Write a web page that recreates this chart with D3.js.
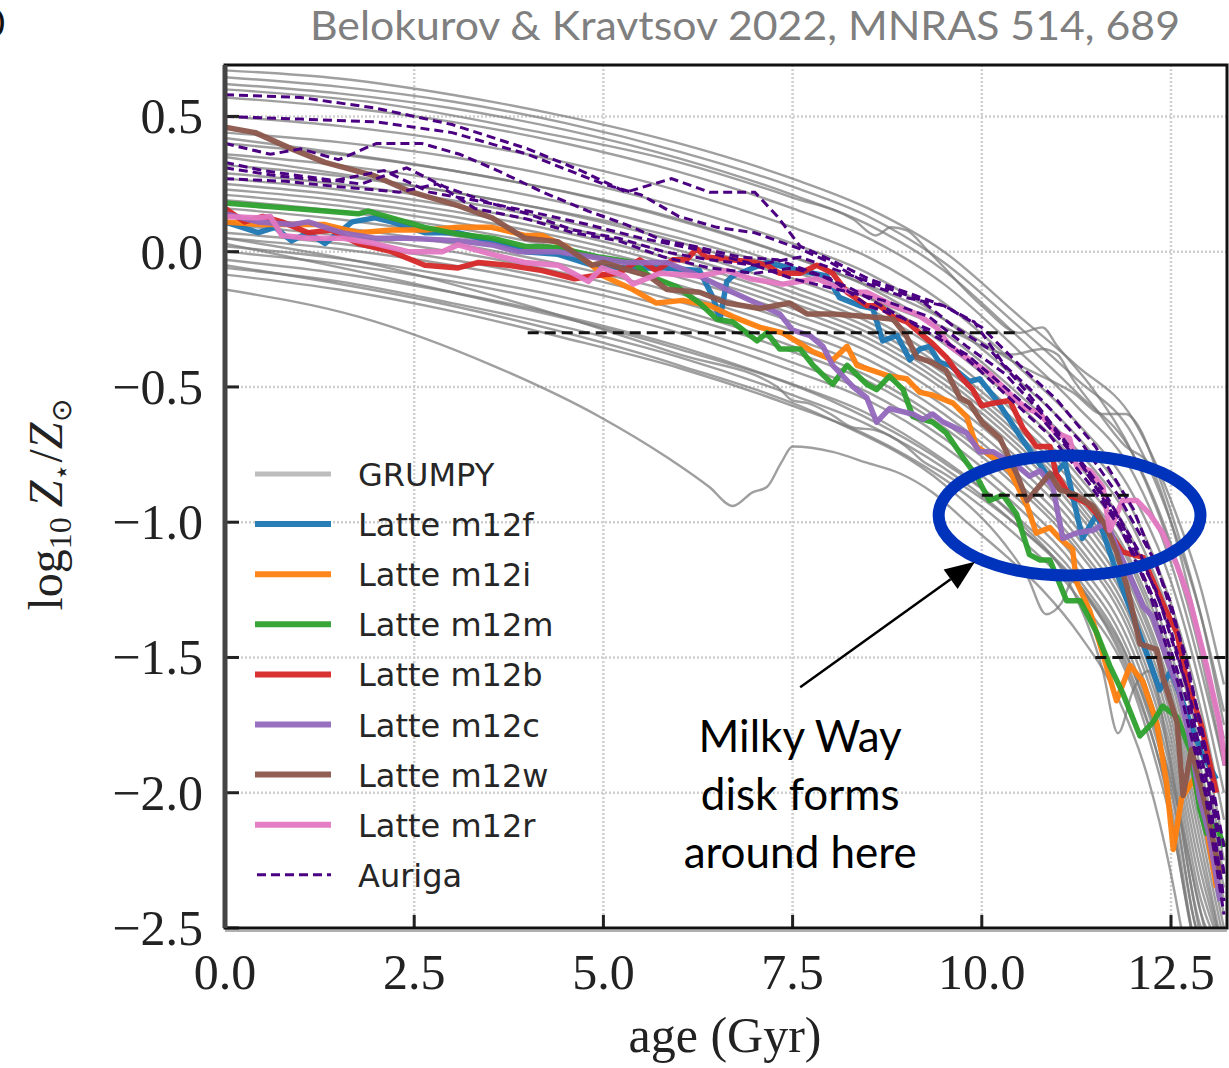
<!DOCTYPE html>
<html>
<head>
<meta charset="utf-8">
<script src="https://cdn.jsdelivr.net/npm/d3@7"></script>
<style>
  html, body { margin: 0; padding: 0; background: #fff; }
  svg { display: block; }
</style>
</head>
<body>
<svg id="chart" width="1229" height="1068"></svg>
<script>
// ---------------- data ----------------
const xTicks = [0, 2.5, 5, 7.5, 10, 12.5];
const yTicks = [0.5, 0, -0.5, -1, -1.5, -2, -2.5];

// GRUMPY model tracks sampled on a common age grid
const grumpyAges = [0, 1.5, 3, 4.5, 6, 7.5, 8.5, 9.5, 10.5, 11.25, 12, 12.5, 12.9, 13.2];
const grumpyTracks = [
  [0.67, 0.64, 0.58, 0.50, 0.40, 0.27, 0.16, 0.00, -0.24, -0.42, -0.62, -0.92, -1.25, -1.60],
  [0.645, 0.61, 0.555, 0.475, 0.37, 0.24, 0.13, -0.04, -0.28, -0.47, -0.68, -1.00, -1.35, -1.70],
  [0.62, 0.585, 0.53, 0.45, 0.345, 0.21, 0.10, -0.07, -0.32, -0.52, -0.75, -1.08, -1.45, -1.80],
  [0.57, 0.535, 0.48, 0.40, 0.295, 0.16, 0.05, -0.12, -0.37, -0.57, -0.82, -1.15, -1.55, -1.90],
  [0.50, 0.465, 0.41, 0.33, 0.225, 0.09, -0.02, -0.19, -0.43, -0.63, -0.90, -1.22, -1.62, -2.00],
  [0.44, 0.405, 0.35, 0.27, 0.165, 0.03, -0.08, -0.25, -0.48, -0.68, -0.96, -1.30, -1.70, -2.10],
  [0.40, 0.36, 0.30, 0.22, 0.115, -0.02, -0.13, -0.30, -0.53, -0.73, -1.02, -1.36, -1.78, -2.20],
  [0.36, 0.32, 0.26, 0.18, 0.075, -0.06, -0.17, -0.34, -0.57, -0.78, -1.07, -1.42, -1.85, -2.25],
  [0.32, 0.28, 0.22, 0.14, 0.035, -0.10, -0.21, -0.38, -0.61, -0.82, -1.12, -1.48, -1.92, -2.30],
  [0.29, 0.25, 0.19, 0.11, 0.005, -0.13, -0.24, -0.41, -0.64, -0.85, -1.16, -1.52, -1.97, -2.35],
  [0.27, 0.23, 0.17, 0.09, -0.015, -0.15, -0.26, -0.43, -0.66, -0.87, -1.18, -1.55, -2.00, -2.40],
  [0.25, 0.21, 0.15, 0.07, -0.035, -0.17, -0.28, -0.45, -0.68, -0.90, -1.21, -1.58, -2.05, -2.45],
  [0.23, 0.19, 0.13, 0.05, -0.055, -0.19, -0.30, -0.47, -0.70, -0.92, -1.24, -1.62, -2.10, -2.50],
  [0.21, 0.17, 0.11, 0.03, -0.075, -0.21, -0.32, -0.49, -0.72, -0.94, -1.26, -1.65, -2.15, -2.55],
  [0.19, 0.15, 0.09, 0.01, -0.095, -0.23, -0.34, -0.51, -0.74, -0.96, -1.29, -1.68, -2.20, -2.60],
  [0.16, 0.12, 0.06, -0.02, -0.125, -0.26, -0.37, -0.54, -0.77, -0.99, -1.32, -1.72, -2.25, -2.60],
  [0.13, 0.09, 0.03, -0.05, -0.155, -0.29, -0.40, -0.57, -0.80, -1.02, -1.35, -1.76, -2.30, -2.60],
  [0.10, 0.06, 0.00, -0.08, -0.185, -0.32, -0.43, -0.60, -0.83, -1.05, -1.38, -1.80, -2.35, -2.60],
  [0.07, 0.03, -0.03, -0.11, -0.215, -0.35, -0.46, -0.63, -0.86, -1.08, -1.41, -1.84, -2.40, -2.60],
  [0.05, 0.01, -0.05, -0.13, -0.235, -0.37, -0.48, -0.65, -0.88, -1.10, -1.44, -1.88, -2.45, -2.60],
  [0.02, -0.025, -0.09, -0.17, -0.275, -0.41, -0.52, -0.69, -0.92, -1.14, -1.48, -1.92, -2.50, -2.60],
  [0.00, -0.045, -0.11, -0.195, -0.30, -0.44, -0.55, -0.72, -0.95, -1.17, -1.52, -1.97, -2.55, -2.60],
  [-0.03, -0.08, -0.15, -0.24, -0.35, -0.49, -0.60, -0.77, -0.99, -1.20, -1.55, -2.00, -2.55, -2.60],
  [-0.06, -0.11, -0.19, -0.28, -0.39, -0.53, -0.64, -0.80, -1.02, -1.23, -1.58, -2.05, -2.60, -2.60],
  [-0.085, -0.14, -0.22, -0.32, -0.43, -0.57, -0.68, -0.84, -1.06, -1.27, -1.62, -2.10, -2.60, -2.60]
];
// GRUMPY tracks with merger-driven wiggles, as [age, log Z] pairs
const grumpyWiggly = [
  [[0,0.60],[2,0.55],[4,0.45],[6,0.33],[7.5,0.20],[8.3,0.12],[8.6,0.06],[8.8,0.09],[9.0,0.08],[9.3,0.0],[10,-0.2],[10.5,-0.3],[10.8,-0.28],[11.0,-0.35],[11.5,-0.52],[12,-0.75],[12.5,-1.1],[12.9,-1.5],[13.2,-1.9]],
  [[0,0.35],[3,0.22],[6,0.05],[8,-0.12],[9.5,-0.28],[10.4,-0.38],[10.8,-0.36],[11.0,-0.38],[11.2,-0.47],[11.5,-0.58],[11.9,-0.72],[12.2,-0.78],[12.5,-1.0],[12.9,-1.45],[13.2,-1.85]],
  [[0,0.42],[3,0.30],[6,0.12],[8,-0.07],[9.5,-0.25],[10.5,-0.42],[11.2,-0.52],[11.6,-0.6],[11.9,-0.6],[12.1,-0.66],[12.3,-0.8],[12.6,-1.05],[12.9,-1.35],[13.2,-1.75]],
  [[0,-0.05],[3,-0.2],[6,-0.42],[8,-0.62],[9.5,-0.86],[10.3,-1.08],[10.6,-1.2],[10.85,-1.34],[11.05,-1.3],[11.2,-1.22],[11.5,-1.32],[12,-1.6],[12.4,-1.95],[12.7,-2.4],[12.9,-2.7]],
  [[0,0.03],[3,-0.15],[6,-0.36],[8,-0.55],[9.5,-0.78],[10.5,-1.0],[11.2,-1.25],[11.6,-1.55],[11.8,-1.78],[12.0,-1.62],[12.2,-1.55],[12.5,-1.9],[12.8,-2.4],[13.0,-2.7]],
  [[0,0.05],[2,-0.05],[4,-0.2],[6,-0.38],[7.3,-0.5],[7.5,-0.55],[7.7,-0.56],[8.0,-0.6],[8.3,-0.65],[8.6,-0.66],[9.0,-0.72],[9.2,-0.77],[9.5,-0.82],[10.5,-1.02],[11.25,-1.22],[12,-1.55],[12.5,-1.95],[12.9,-2.45],[13.1,-2.7]],
  [[0,-0.14],[1.76,-0.24],[3.53,-0.42],[4.95,-0.61],[5.84,-0.76],[6.4,-0.87],[6.71,-0.94],[6.97,-0.89],[7.16,-0.87],[7.35,-0.78],[7.5,-0.72],[8.03,-0.74],[8.48,-0.78],[8.92,-0.82],[9.35,-0.89],[9.8,-1.0],[10.3,-1.12],[10.8,-1.25],[11.3,-1.42],[11.8,-1.65],[12.2,-1.95],[12.5,-2.3],[12.7,-2.6]]
];

// Latte (FIRE-2) simulations
const latteNames = ["Latte m12f", "Latte m12i", "Latte m12m", "Latte m12b", "Latte m12c", "Latte m12w", "Latte m12r"];
const latteColors = ["#1f77b4", "#ff7f0e", "#2ca02c", "#d62728", "#9467bd", "#8c564b", "#e377c2"];
const latteM12f = [[0,0.11],[0.44,0.07],[0.66,0.09],[0.88,0.04],[1.1,0.07],[1.32,0.03],[1.68,0.11],[1.98,0.125],[2.2,0.11],[2.64,0.07],[3.08,0.07],[3.66,0.03],[3.96,0.0],[4.4,-0.01],[4.85,-0.05],[5.3,-0.06],[5.8,-0.06],[6.27,-0.07],[6.45,-0.17],[6.54,-0.25],[6.63,-0.11],[6.71,-0.09],[7.16,-0.04],[7.6,-0.07],[7.95,-0.09],[8.12,-0.17],[8.39,-0.2],[8.56,-0.21],[8.69,-0.33],[8.88,-0.31],[9.05,-0.4],[9.18,-0.36],[9.31,-0.35],[9.44,-0.41],[9.58,-0.42],[9.84,-0.48],[9.97,-0.47],[10.2,-0.55],[10.5,-0.68],[10.9,-0.84],[11.1,-0.78],[11.33,-1.06],[11.52,-0.97],[11.8,-1.2],[12.0,-1.35],[12.2,-1.5],[12.35,-1.62],[12.5,-1.55],[12.7,-1.7],[12.9,-1.85],[13.1,-1.95]];
const latteM12i = [[0,0.11],[0.5,0.1],[1.32,0.1],[1.76,0.07],[2.2,0.08],[2.64,0.08],[3.08,0.09],[3.53,0.09],[3.96,0.06],[4.19,0.06],[4.5,0.02],[4.85,-0.05],[5.0,-0.09],[5.39,-0.14],[5.7,-0.19],[6.05,-0.18],[6.41,-0.2],[6.71,-0.24],[7.07,-0.28],[7.37,-0.3],[7.6,-0.34],[7.77,-0.37],[8.03,-0.4],[8.22,-0.35],[8.35,-0.42],[8.56,-0.44],[8.78,-0.46],[9.01,-0.47],[9.18,-0.52],[9.35,-0.53],[9.62,-0.56],[9.8,-0.61],[9.93,-0.72],[10.15,-0.76],[10.37,-0.81],[10.6,-0.94],[10.72,-1.04],[10.9,-1.02],[11.03,-1.06],[11.2,-1.1],[11.25,-1.22],[11.43,-1.33],[11.56,-1.45],[11.78,-1.66],[11.96,-1.53],[12.13,-1.59],[12.31,-1.74],[12.44,-1.96],[12.53,-2.21],[12.64,-2.02],[12.8,-1.95],[12.95,-2.1],[13.1,-2.35]];
const latteM12m = [[0,0.18],[0.44,0.17],[0.88,0.16],[1.32,0.15],[1.76,0.14],[1.89,0.15],[2.2,0.125],[2.64,0.09],[3.08,0.065],[3.53,0.05],[3.96,0.02],[4.4,0.015],[4.95,-0.02],[5.39,-0.04],[5.61,-0.09],[5.97,-0.13],[6.27,-0.19],[6.5,-0.25],[6.71,-0.26],[7.03,-0.33],[7.16,-0.3],[7.33,-0.36],[7.6,-0.36],[7.77,-0.42],[8.03,-0.49],[8.22,-0.42],[8.48,-0.49],[8.61,-0.51],[8.78,-0.46],[8.96,-0.51],[9.09,-0.61],[9.35,-0.63],[9.53,-0.67],[9.75,-0.76],[9.93,-0.83],[10.1,-0.92],[10.28,-0.9],[10.46,-0.97],[10.63,-1.12],[10.77,-1.14],[10.9,-1.14],[11.12,-1.29],[11.3,-1.29],[11.52,-1.41],[11.69,-1.53],[11.86,-1.63],[12.09,-1.79],[12.26,-1.74],[12.39,-1.68],[12.58,-1.72],[12.75,-1.84],[12.88,-2.06],[12.97,-2.15],[13.1,-2.12],[13.2,-2.2]];
const latteM12b = [[0,0.16],[0.26,0.11],[0.5,0.13],[0.75,0.11],[1.1,0.07],[1.4,0.08],[1.76,0.03],[2.2,0.0],[2.64,-0.05],[3.08,-0.06],[3.35,-0.04],[3.74,-0.05],[4.19,-0.07],[4.62,-0.1],[4.85,-0.09],[5.2,-0.08],[5.48,-0.03],[5.7,-0.07],[5.92,-0.03],[6.1,-0.03],[6.23,0.01],[6.36,-0.02],[6.7,-0.03],[7.0,-0.04],[7.16,-0.05],[7.33,-0.08],[7.6,-0.08],[7.82,-0.05],[8.03,-0.08],[8.22,-0.15],[8.48,-0.2],[8.65,-0.2],[8.83,-0.24],[9.01,-0.26],[9.18,-0.3],[9.35,-0.34],[9.53,-0.39],[9.71,-0.46],[9.88,-0.51],[10.0,-0.57],[10.15,-0.56],[10.37,-0.55],[10.54,-0.65],[10.72,-0.72],[10.9,-0.72],[10.98,-0.82],[11.16,-0.9],[11.39,-0.93],[11.52,-0.97],[11.86,-1.11],[12.13,-1.13],[12.22,-1.19],[12.39,-1.3],[12.58,-1.41],[12.71,-1.59],[12.9,-1.75],[13.1,-2.0]];
const latteM12c = [[0,0.14],[0.44,0.11],[0.88,0.10],[1.1,0.11],[1.54,0.07],[1.98,0.05],[2.42,0.05],[3.08,0.04],[3.53,0.025],[3.87,0.0],[4.4,0.0],[4.85,-0.02],[5.28,-0.04],[5.84,-0.04],[6.27,-0.09],[6.63,-0.14],[6.94,-0.18],[7.33,-0.23],[7.5,-0.29],[7.73,-0.31],[7.9,-0.35],[8.03,-0.42],[8.3,-0.5],[8.48,-0.54],[8.61,-0.63],[8.78,-0.58],[9.09,-0.6],[9.22,-0.62],[9.35,-0.6],[9.49,-0.63],[9.8,-0.67],[9.97,-0.74],[10.15,-0.74],[10.46,-0.79],[10.63,-0.83],[10.77,-0.81],[10.94,-0.87],[11.07,-1.06],[11.25,-1.04],[11.47,-1.03],[11.65,-1.0],[11.78,-1.09],[11.96,-1.2],[12.13,-1.31],[12.26,-1.35],[12.44,-1.5],[12.6,-1.62],[12.75,-1.8],[12.88,-2.02],[13.0,-2.15],[13.15,-2.4]];
const latteM12w = [[0,0.46],[0.4,0.44],[0.88,0.38],[1.32,0.33],[1.98,0.28],[2.47,0.22],[3.08,0.17],[3.53,0.125],[3.96,0.05],[4.4,0.037],[4.85,-0.05],[5.0,-0.04],[5.6,-0.09],[5.84,-0.14],[6.27,-0.15],[6.63,-0.19],[7.07,-0.21],[7.46,-0.19],[7.69,-0.23],[8.03,-0.23],[8.48,-0.24],[8.83,-0.25],[9.0,-0.31],[9.14,-0.39],[9.35,-0.41],[9.53,-0.44],[9.71,-0.54],[9.84,-0.56],[10.0,-0.63],[10.24,-0.69],[10.46,-0.82],[10.6,-0.92],[10.9,-0.82],[11.03,-0.88],[11.25,-0.9],[11.47,-0.94],[11.65,-1.02],[11.78,-1.11],[11.92,-1.24],[12.09,-1.45],[12.31,-1.47],[12.39,-1.57],[12.58,-1.74],[12.66,-2.01],[12.77,-1.84],[12.88,-1.96],[13.0,-2.1],[13.15,-2.3]];
const latteM12r = [[0,0.13],[0.44,0.125],[0.6,0.13],[0.75,0.06],[1.1,0.05],[1.54,0.05],[1.98,0.03],[2.42,0.0],[2.87,0.0],[3.08,0.025],[3.53,-0.01],[3.96,-0.04],[4.4,-0.05],[4.8,-0.11],[4.98,-0.06],[5.28,-0.09],[5.39,-0.12],[5.75,-0.08],[6.27,-0.09],[6.63,-0.07],[6.94,-0.1],[7.37,-0.12],[7.82,-0.1],[8.26,-0.15],[8.48,-0.15],[8.83,-0.2],[9.14,-0.23],[9.4,-0.28],[9.58,-0.35],[9.84,-0.4],[10.1,-0.45],[10.46,-0.55],[10.6,-0.58],[10.77,-0.6],[10.98,-0.67],[11.16,-0.69],[11.25,-0.79],[11.43,-0.81],[11.6,-0.87],[11.69,-1.03],[11.86,-0.92],[12.05,-0.92],[12.22,-0.97],[12.39,-1.04],[12.58,-1.16],[12.75,-1.29],[12.97,-1.53],[13.14,-1.74],[13.22,-1.9]];
const latteSeries = [latteM12f, latteM12i, latteM12m, latteM12b, latteM12c, latteM12w, latteM12r];

// Auriga simulations
const aurigaSeries = [
  [[0,0.58],[1,0.57],[2,0.53],[3,0.47],[4,0.38],[4.7,0.30],[5.3,0.22],[5.9,0.27],[6.4,0.22],[7.0,0.22],[7.3,0.13],[7.6,0.02],[8.0,-0.03],[8.5,-0.1],[9.0,-0.15],[9.5,-0.2],[10.0,-0.28],[10.5,-0.42],[11.0,-0.55],[11.5,-0.72],[12.0,-0.95],[12.5,-1.3],[12.9,-1.75],[13.2,-2.2]],
  [[0,0.50],[1,0.49],[2,0.48],[3,0.44],[4,0.36],[5,0.25],[5.5,0.21],[6,0.13],[6.5,0.09],[7,0.07],[7.6,0.01],[8,-0.04],[8.5,-0.12],[9,-0.17],[9.5,-0.2],[9.9,-0.26],[10.3,-0.42],[10.8,-0.55],[11.3,-0.7],[11.8,-0.9],[12.3,-1.15],[12.7,-1.5],[13.0,-1.9],[13.2,-2.3]],
  [[0,0.40],[0.6,0.36],[1,0.38],[1.5,0.34],[2,0.40],[2.6,0.40],[3.1,0.36],[3.6,0.30],[4.2,0.22],[4.8,0.15],[5.3,0.10],[5.8,0.04],[6.2,0.02],[6.8,-0.02],[7.3,-0.03],[7.8,-0.08],[8.3,-0.14],[8.8,-0.22],[9.3,-0.3],[9.8,-0.38],[10.3,-0.5],[10.8,-0.62],[11.3,-0.78],[11.8,-0.98],[12.3,-1.25],[12.7,-1.6],[13.0,-2.0],[13.2,-2.4]],
  [[0,0.33],[0.5,0.3],[1,0.28],[1.8,0.25],[2.4,0.31],[2.9,0.24],[3.5,0.18],[4.0,0.14],[4.6,0.08],[5.2,0.05],[5.8,0.0],[6.4,-0.03],[7.0,-0.05],[7.6,-0.02],[8.0,-0.06],[8.6,-0.12],[9.2,-0.18],[9.6,-0.27],[10.1,-0.36],[10.6,-0.52],[11.1,-0.7],[11.6,-0.88],[12.1,-1.12],[12.5,-1.4],[12.9,-1.8],[13.2,-2.3]],
  [[0,0.27],[0.8,0.26],[1.5,0.24],[2.3,0.22],[2.8,0.25],[3.3,0.16],[4,0.12],[4.6,0.07],[5.2,0.04],[5.8,-0.02],[6.4,-0.06],[7,-0.08],[7.5,-0.06],[8,-0.1],[8.5,-0.2],[9,-0.25],[9.4,-0.3],[9.9,-0.42],[10.4,-0.55],[10.9,-0.68],[11.4,-0.85],[11.9,-1.05],[12.3,-1.3],[12.7,-1.65],[13.0,-2.05],[13.2,-2.4]],
  [[0,0.31],[0.7,0.28],[1.4,0.26],[2.1,0.30],[2.7,0.22],[3.3,0.19],[4,0.15],[4.8,0.1],[5.5,0.05],[6.2,0.01],[6.9,-0.04],[7.5,-0.1],[8.1,-0.14],[8.7,-0.18],[9.3,-0.24],[9.8,-0.35],[10.3,-0.45],[10.8,-0.6],[11.3,-0.78],[11.8,-1.0],[12.2,-1.25],[12.6,-1.6],[12.95,-2.0],[13.2,-2.45]]
];

// horizontal reference segments: [ageStart, ageEnd, log Z]
const refSegments = [[4.0, 10.5, -0.3], [10.0, 12.0, -0.9], [11.5, 13.3, -1.5]];

const legendLabels = ["GRUMPY"].concat(latteNames).concat(["Auriga"]);

// ---------------- layout ----------------
const svg = d3.select("#chart");
const plot = { left: 225, right: 1227, top: 65, bottom: 928 };
const x = d3.scaleLinear().domain([0, 13.24]).range([plot.left, plot.right]);
const y = d3.scaleLinear().domain([-2.5, 0.69]).range([plot.bottom, plot.top]);

const serif = "'Liberation Serif', 'Times New Roman', serif";
const sans = "'DejaVu Sans', sans-serif";
const calibriLike = "Lato, 'Open Sans', sans-serif";

svg.append("rect").attr("width", 1229).attr("height", 1068).attr("fill", "#fff");

// credit line
svg.append("text")
  .attr("x", 310).attr("y", 40)
  .attr("font-family", calibriLike).attr("font-size", 41)
  .attr("fill", "#7f7f7f")
  .attr("textLength", 870).attr("lengthAdjust", "spacingAndGlyphs")
  .text("Belokurov & Kravtsov 2022, MNRAS 514, 689");
svg.append("text")
  .attr("x", -17).attr("y", 37)
  .attr("font-family", calibriLike).attr("font-size", 38)
  .attr("fill", "#111").text("0");

svg.append("defs").append("clipPath").attr("id", "plotClip")
  .append("rect")
  .attr("x", plot.left).attr("y", plot.top)
  .attr("width", plot.right - plot.left).attr("height", plot.bottom - plot.top);

// grid
const grid = svg.append("g");
grid.selectAll("line.gx").data(xTicks.slice(1)).join("line")
  .attr("x1", d => x(d)).attr("x2", d => x(d))
  .attr("y1", plot.top).attr("y2", plot.bottom)
  .attr("stroke", "#cfcfcf").attr("stroke-width", 2.5).attr("stroke-dasharray", "2,2");
grid.selectAll("line.gy").data(yTicks.slice(0, -1)).join("line")
  .attr("y1", d => y(d)).attr("y2", d => y(d))
  .attr("x1", plot.left).attr("x2", plot.right)
  .attr("stroke", "#cfcfcf").attr("stroke-width", 2.5).attr("stroke-dasharray", "2,2");

const plotG = svg.append("g").attr("clip-path", "url(#plotClip)");

const smoothLine = d3.line().x(d => x(d[0])).y(d => y(d[1])).curve(d3.curveMonotoneX);
const rawLine = d3.line().x(d => x(d[0])).y(d => y(d[1]));

const grumpySeries = grumpyTracks.map(vals => vals.map((v, i) => [grumpyAges[i], v])).concat(grumpyWiggly);

plotG.append("g").selectAll("path").data(grumpySeries).join("path")
  .attr("d", smoothLine)
  .attr("fill", "none").attr("stroke", "#7a7a7a")
  .attr("stroke-opacity", 0.72).attr("stroke-width", 2.4);

plotG.append("g").selectAll("path").data(latteSeries).join("path")
  .attr("d", rawLine)
  .attr("fill", "none")
  .attr("stroke", (d, i) => latteColors[i])
  .attr("stroke-width", 5.5).attr("stroke-opacity", 0.95)
  .attr("stroke-linejoin", "round");

plotG.append("g").selectAll("path").data(aurigaSeries).join("path")
  .attr("d", rawLine)
  .attr("fill", "none").attr("stroke", "#4b0082")
  .attr("stroke-width", 3).attr("stroke-dasharray", "9,5");

plotG.append("g").selectAll("line").data(refSegments).join("line")
  .attr("x1", d => x(d[0])).attr("x2", d => x(d[1]))
  .attr("y1", d => y(d[2])).attr("y2", d => y(d[2]))
  .attr("stroke", "#111").attr("stroke-width", 3).attr("stroke-dasharray", "11,6");

// ticks (inward) and labels
const axes = svg.append("g");
axes.selectAll("line.ty").data(yTicks).join("line")
  .attr("x1", plot.left).attr("x2", plot.left + 14)
  .attr("y1", d => y(d)).attr("y2", d => y(d))
  .attr("stroke", "#222").attr("stroke-width", 3);
axes.selectAll("line.tx").data(xTicks).join("line")
  .attr("x1", d => x(d)).attr("x2", d => x(d))
  .attr("y1", plot.bottom).attr("y2", plot.bottom - 13)
  .attr("stroke", "#222").attr("stroke-width", 3);

const fmt = d3.format(".1f");
const tickText = d => fmt(d).replace("-", "\u2212");
axes.selectAll("text.ly").data(yTicks).join("text")
  .attr("x", 203).attr("y", d => y(d) + 17)
  .attr("text-anchor", "end")
  .attr("font-family", serif).attr("font-size", 50).attr("fill", "#222")
  .text(tickText);
axes.selectAll("text.lx").data(xTicks).join("text")
  .attr("x", d => x(d)).attr("y", 989)
  .attr("text-anchor", "middle")
  .attr("font-family", serif).attr("font-size", 50).attr("fill", "#222")
  .text(tickText);

// frame
svg.append("line").attr("x1", plot.left).attr("x2", plot.right)
  .attr("y1", plot.bottom + 3).attr("y2", plot.bottom + 3)
  .attr("stroke", "#b0b0b0").attr("stroke-width", 2);
svg.append("rect")
  .attr("x", plot.left).attr("y", plot.top)
  .attr("width", plot.right - plot.left).attr("height", plot.bottom - plot.top)
  .attr("fill", "none").attr("stroke", "#111").attr("stroke-width", 3);
svg.append("line").attr("x1", plot.left).attr("x2", plot.left)
  .attr("y1", plot.top).attr("y2", plot.bottom)
  .attr("stroke", "#444").attr("stroke-width", 5);

// axis titles
svg.append("text")
  .attr("x", 725).attr("y", 1052)
  .attr("text-anchor", "middle")
  .attr("font-family", serif).attr("font-size", 50).attr("fill", "#222")
  .text("age (Gyr)");

const yl = svg.append("text")
  .attr("transform", "translate(62,505) rotate(-90)")
  .attr("text-anchor", "middle")
  .attr("font-family", serif).attr("font-size", 48).attr("fill", "#222");
yl.append("tspan").text("log");
yl.append("tspan").attr("font-size", 32).attr("dy", 9).text("10");
yl.append("tspan").attr("dy", -9).attr("dx", 10).attr("font-style", "italic").text("Z");
yl.append("tspan").attr("font-size", 28).attr("dy", 9).text("\u22C6");
yl.append("tspan").attr("dy", -9).text("/");
yl.append("tspan").attr("font-style", "italic").text("Z");
yl.append("tspan").attr("font-size", 28).attr("dy", 9).text("\u2299");

// legend
const legend = svg.append("g");
const legendRowY = i => 474 + i * 50.1;
legendLabels.forEach((label, i) => {
  const ly = legendRowY(i);
  const ln = legend.append("line")
    .attr("x1", 255).attr("x2", 331).attr("y1", ly).attr("y2", ly);
  if (i === 0) {
    ln.attr("stroke", "#bdbdbd").attr("stroke-width", 5);
  } else if (i === legendLabels.length - 1) {
    ln.attr("stroke", "#4b0082").attr("stroke-width", 3).attr("stroke-dasharray", "9,5").attr("x1", 257);
  } else {
    ln.attr("stroke", latteColors[i - 1]).attr("stroke-width", 6).attr("stroke-opacity", 0.95);
  }
  legend.append("text")
    .attr("x", 358).attr("y", ly + 12)
    .attr("font-family", sans).attr("font-size", 32).attr("fill", "#262626")
    .text(label);
});

// annotation: disk-formation epoch
const ring = { age: 11.16, z: -0.975, rAge: 1.73, rZ: 0.222 };
svg.append("ellipse")
  .attr("cx", x(ring.age)).attr("cy", y(ring.z))
  .attr("rx", x(ring.rAge) - x(0)).attr("ry", y(0) - y(ring.rZ))
  .attr("fill", "none").attr("stroke", "#0033bb").attr("stroke-width", 12);

const arrowFrom = [7.6, -1.61], arrowTo = [9.91, -1.146];
const ax0 = x(arrowFrom[0]), ay0 = y(arrowFrom[1]), ax1 = x(arrowTo[0]), ay1 = y(arrowTo[1]);
const ang = Math.atan2(ay1 - ay0, ax1 - ax0);
const headLen = 30, headHalf = 12;
const bx = ax1 - headLen * Math.cos(ang), by = ay1 - headLen * Math.sin(ang);
svg.append("line").attr("x1", ax0).attr("y1", ay0).attr("x2", bx).attr("y2", by)
  .attr("stroke", "#000").attr("stroke-width", 2.5);
svg.append("path")
  .attr("d", `M${ax1},${ay1} L${bx - headHalf * Math.sin(ang)},${by + headHalf * Math.cos(ang)} L${bx + headHalf * Math.sin(ang)},${by - headHalf * Math.cos(ang)} Z`)
  .attr("fill", "#000");

const noteLines = ["Milky Way", "disk forms", "around here"];
svg.append("g").selectAll("text").data(noteLines).join("text")
  .attr("x", x(arrowFrom[0])).attr("y", (d, i) => 752 + i * 58)
  .attr("text-anchor", "middle")
  .attr("font-family", calibriLike).attr("font-size", 44).attr("fill", "#000")
  .text(d => d);
</script>
</body>
</html>
